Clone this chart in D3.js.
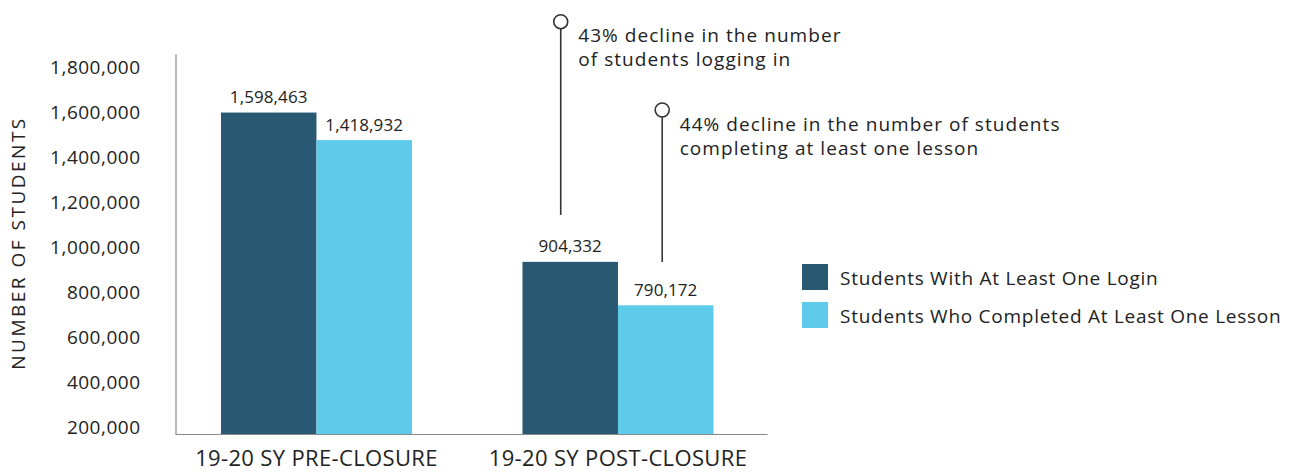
<!DOCTYPE html>
<html>
<head>
<meta charset="utf-8">
<script src="https://cdn.jsdelivr.net/npm/d3@7"></script>
<style>
  html, body { margin: 0; padding: 0; background: #fff; }
  svg { display: block; font-family: "Open Sans", "Noto Sans", sans-serif; }
</style>
</head>
<body>
<svg id="chart" width="1298" height="472"></svg>
<script>
// ---- data ----
const categories = ["19-20 SY PRE-CLOSURE", "19-20 SY POST-CLOSURE"];
const seriesNames = ["Students With At Least One Login", "Students Who Completed At Least One Lesson"];
// bar heights as drawn in the picture
const loginValues = [1598463, 935000];
const lessonValues = [1476000, 742000];
// value labels as printed
const loginLabels = ["1,598,463", "904,332"];
const lessonLabels = ["1,418,932", "790,172"];
const yTicks = [200000, 400000, 600000, 800000, 1000000, 1200000, 1400000, 1600000, 1800000];
const annotations = [
  { lines: ["43% decline in the number", "of students logging in"], cat: 1, series: 0 },
  { lines: ["44% decline in the number of students", "completing at least one lesson"], cat: 1, series: 1 }
];
const colors = ["#285872", "#5ecbea"];

// ---- layout ----
const svg = d3.select("#chart");
const y = d3.scaleLinear().domain([170000, 1860000]).range([434, 53.7]);
const x0 = d3.scaleBand().domain(categories).range([175, 767])
  .paddingInner(0.3665).paddingOuter(0.165).align(0.462);
const x1 = d3.scaleBand().domain(seriesNames).range([0, x0.bandwidth()]);

const rows = categories.map((c, i) => ({
  cat: c,
  vals: [
    { s: seriesNames[0], v: loginValues[i], label: loginLabels[i] },
    { s: seriesNames[1], v: lessonValues[i], label: lessonLabels[i] }
  ]
}));

// y axis
const yAxis = d3.axisLeft(y).tickValues(yTicks).tickSize(0).tickPadding(35)
  .tickFormat(d3.format(","));
const gy = svg.append("g").attr("transform", "translate(175.5,0)").call(yAxis);
gy.select(".domain").attr("stroke", "#8a8a8a").attr("stroke-width", 1.2);
gy.selectAll(".tick text").attr("font-size", 19).attr("fill", "#222")
  .attr("font-family", "Open Sans").attr("letter-spacing", 0.5);

// x axis
const xAxis = d3.axisBottom(x0).tickSize(0).tickPadding(16);
const gx = svg.append("g").attr("transform", "translate(0,434)").call(xAxis);
gx.select(".domain").attr("stroke", "#8a8a8a").attr("stroke-width", 1.2);
gx.selectAll(".tick text").attr("font-size", 22).attr("fill", "#222")
  .attr("font-family", "Open Sans").attr("letter-spacing", 0.35);

// bars
const groups = svg.append("g").selectAll("g").data(rows).join("g")
  .attr("transform", d => `translate(${x0(d.cat)},0)`);
groups.selectAll("rect").data(d => d.vals).join("rect")
  .attr("x", d => x1(d.s))
  .attr("width", x1.bandwidth())
  .attr("y", d => y(d.v))
  .attr("height", d => y.range()[0] - y(d.v))
  .attr("fill", (d, i) => colors[i]);
groups.selectAll("text").data(d => d.vals).join("text")
  .attr("x", d => x1(d.s) + x1.bandwidth() / 2)
  .attr("y", d => y(d.v) - 9.5)
  .attr("text-anchor", "middle")
  .attr("font-size", 17)
  .attr("letter-spacing", 0.1)
  .attr("fill", "#222")
  .text(d => d.label);

// annotations
const annTop = [21.7, 110];
const annBottom = [215, 262];
const annDx = [-9.5, -3.5];
annotations.forEach((a, i) => {
  const cx = x0(categories[a.cat]) + x1(seriesNames[a.series]) + x1.bandwidth() / 2 + annDx[i];
  const g = svg.append("g");
  g.append("line").attr("x1", cx).attr("x2", cx)
    .attr("y1", annTop[i] + 7).attr("y2", annBottom[i])
    .attr("stroke", "#333").attr("stroke-width", 1.6);
  g.append("circle").attr("cx", cx).attr("cy", annTop[i]).attr("r", 7)
    .attr("fill", "#fff").attr("stroke", "#333").attr("stroke-width", 1.6);
  g.selectAll("text").data(a.lines).join("text")
    .attr("x", cx + 17.5)
    .attr("y", (d, j) => annTop[i] + 20.5 + j * 24)
    .attr("font-size", 19)
    .attr("letter-spacing", 1.05)
    .attr("fill", "#222")
    .text(d => d);
});

// legend
const lg = svg.append("g").attr("transform", "translate(802,264)");
seriesNames.forEach((s, i) => {
  lg.append("rect").attr("x", 0).attr("y", i * 38).attr("width", 26).attr("height", 26)
    .attr("fill", colors[i]);
  lg.append("text").attr("x", 38).attr("y", i * 38 + 20.5)
    .attr("font-size", 19).attr("letter-spacing", 0.73).attr("fill", "#222").text(s);
});

// y axis title
svg.append("text")
  .attr("transform", "translate(25,243) rotate(-90)")
  .attr("text-anchor", "middle")
  .attr("font-size", 19)
  .attr("letter-spacing", 2.5)
  .attr("fill", "#222")
  .text("NUMBER OF STUDENTS");
</script>
</body>
</html>
